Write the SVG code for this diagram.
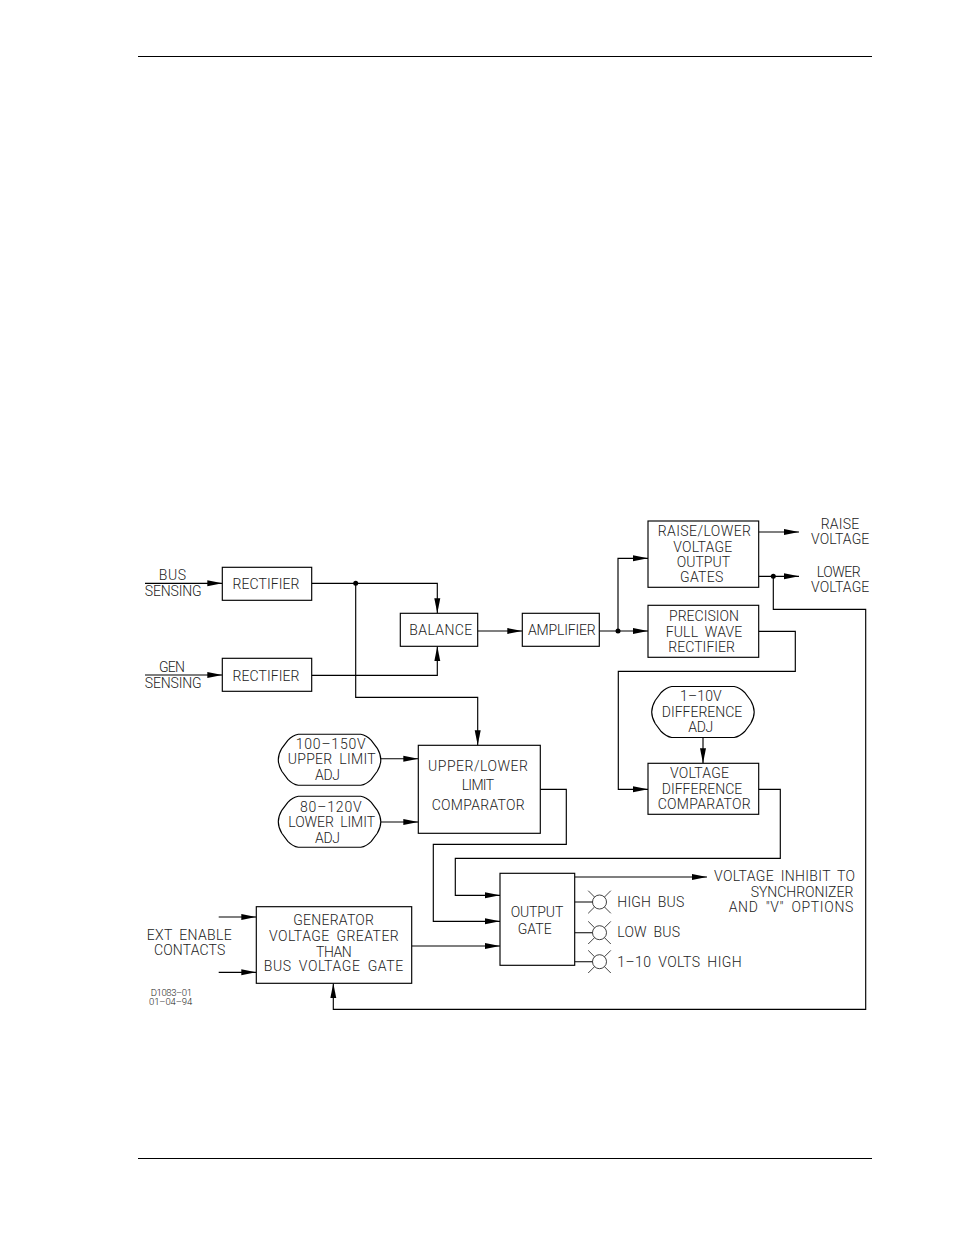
<svg xmlns="http://www.w3.org/2000/svg" xmlns:xlink="http://www.w3.org/1999/xlink" width="954" height="1235" viewBox="0 0 954 1235">
<style>
.b{fill:#fff;stroke:#000;stroke-width:1.15}
.c{fill:none;stroke:#000;stroke-width:1.15;marker-end:url(#a)}
.p{fill:none;stroke:#000;stroke-width:1.15}
.g{fill:none;stroke:#000;stroke-width:1}
.r{fill:none;stroke:#111;stroke-width:.8}
.d{fill:#000;stroke:none}
text{font-family:Roboto,"Liberation Sans",Arial,sans-serif;font-weight:300;font-size:14px;fill:#222;word-spacing:3px}
text.s{font-size:9.500px;word-spacing:0}
</style>
<defs>
<marker id="a" markerUnits="userSpaceOnUse" markerWidth="16" markerHeight="8" refX="15" refY="3.500" orient="auto"><path d="M0,.5 L15,3.500 L0,6.500Z" fill="#000"/></marker>
<path id="o" d="M20,0H82.500Q88,1 93,6L99,14Q102.500,20 102.500,25.500Q102.500,31 99,37L93,45Q88,50 82.500,51H20Q14.500,50 9.500,45L3.500,37Q0,31 0,25.500Q0,20 3.500,14L9.500,6Q14.500,1 20,0Z"/>
<g id="l"><path class="r" d="M-7,0a7,7 0 1,0 14,0a7,7 0 1,0 -14,0M-11.300-11.300L-5,-5M11.300-11.300L5,-5M-11.300,11.300L-5,5M11.300,11.300L5,5"/></g>
</defs>
<rect width="954" height="1235" fill="#fff"/>
<g id="page-rules"><path class="g" d="M138,56.500H872M138,1158.500H872"/></g>
<g id="connectors">
<path class="c" d="M145,583.300H222.300"/>
<path class="c" d="M145,675H222.300"/>
<path class="c" d="M311.700,583.300H437.300V613.300"/>
<path class="c" d="M311.700,675.300H437.300V646.300"/>
<path class="c" d="M355.700,583.300V697.300H477.700V745.300"/>
<path class="c" d="M477.700,631H522.300"/>
<path class="c" d="M599.300,631H648"/>
<path class="c" d="M618,631V558.300H648"/>
<path class="c" d="M758.700,532H799"/>
<path class="c" d="M758.700,576.300H799"/>
<path class="c" d="M773.300,576.300V609.300H865.700V1009.300H333.300V983.300"/>
<path class="c" d="M758.700,631.300H795.300V671.300H618.300V789.300H648"/>
<path class="c" d="M703,737.300V763.300"/>
<path class="c" d="M758.700,789.300H780.300V858.300H455.300V895.300H500"/>
<path class="c" d="M540.300,789.300H566.300V844.300H433.300V921.300H500"/>
<path class="c" d="M411.700,946H500"/>
<path class="c" d="M218.700,917H256.300"/>
<path class="c" d="M218.700,972.300H256.300"/>
<path class="c" d="M381,758.700H418.300"/>
<path class="c" d="M381,822H418.300"/>
<path class="c" d="M574.700,877H707"/>
<path class="p" d="M574.700,902H592.500M574.700,932.700H592.500M574.700,961.700H592.500"/>
<circle class="d" cx="355.700" cy="583.300" r="2.500"/>
<circle class="d" cx="618" cy="631" r="2.500"/>
<circle class="d" cx="773.300" cy="576.300" r="2.500"/>
</g>
<g id="labels">
<text x="158.700" y="580" textLength="27.300">BUS</text>
<text x="144.700" y="596" textLength="57">SENSING</text>
<text x="159" y="672.300" textLength="26">GEN</text>
<text x="144.700" y="687.700" textLength="57">SENSING</text>
<text x="820.700" y="529" textLength="38.600">RAISE</text>
<text x="811" y="544.300" textLength="58.300">VOLTAGE</text>
<text x="816.700" y="576.700" textLength="44">LOWER</text>
<text x="811" y="592.300" textLength="58.300">VOLTAGE</text>
<text x="146.700" y="940" textLength="85">EXT ENABLE</text>
<text x="154" y="955.300" textLength="71.300">CONTACTS</text>
<text class="s" x="150.700" y="996" textLength="41.300">D1083–01</text>
<text class="s" x="149" y="1005.300" textLength="43.300">01–04–94</text>
<text x="714" y="880.700" textLength="141">VOLTAGE INHIBIT TO</text>
<text x="750.700" y="896.700" textLength="102.600">SYNCHRONIZER</text>
<text x="728.700" y="912.300" textLength="124.600">AND "V" OPTIONS</text>
</g>
<g id="rectifier-bus"><rect class="b" x="222.300" y="567.300" width="89.400" height="33"/><text x="232.500" y="589.300" textLength="67">RECTIFIER</text></g>
<g id="rectifier-gen"><rect class="b" x="222.300" y="658.300" width="89.400" height="33"/><text x="232.500" y="681" textLength="67">RECTIFIER</text></g>
<g id="balance"><rect class="b" x="400.300" y="613.300" width="77.400" height="33"/><text x="409.300" y="635.300" textLength="63">BALANCE</text></g>
<g id="amplifier"><rect class="b" x="522.300" y="613.300" width="77" height="33"/><text x="528" y="635.300" textLength="67.700">AMPLIFIER</text></g>
<g id="raise-lower"><rect class="b" x="648" y="521" width="110.700" height="66.300"/>
<text x="657.700" y="536" textLength="93.300">RAISE/LOWER</text>
<text x="673.300" y="551.700" textLength="59">VOLTAGE</text>
<text x="676.700" y="567.300" textLength="53.300">OUTPUT</text>
<text x="680" y="582" textLength="43.300">GATES</text></g>
<g id="precision"><rect class="b" x="648" y="605.300" width="110.700" height="52"/>
<text x="669" y="621" textLength="70">PRECISION</text>
<text x="665.700" y="636.700" textLength="76.600">FULL WAVE</text>
<text x="668.300" y="652.300" textLength="66.700">RECTIFIER</text></g>
<g id="difference-adj"><use href="#o" xlink:href="#o" class="b" x="651.700" y="686.500"/>
<text x="680" y="701.300" textLength="41.700">1–10V</text>
<text x="661.700" y="717" textLength="80.600">DIFFERENCE</text>
<text x="688.300" y="732.300" textLength="25">ADJ</text></g>
<g id="voltage-difference"><rect class="b" x="648" y="763.300" width="110.700" height="51"/>
<text x="670" y="778.300" textLength="59">VOLTAGE</text>
<text x="661.700" y="794" textLength="80.600">DIFFERENCE</text>
<text x="657.700" y="809.300" textLength="93">COMPARATOR</text></g>
<g id="upper-adj"><use href="#o" xlink:href="#o" class="b" x="278.300" y="734.300"/>
<text x="295.700" y="749" textLength="70">100–150V</text>
<text x="287.700" y="764.300" textLength="88">UPPER LIMIT</text>
<text x="315" y="780" textLength="25">ADJ</text></g>
<g id="lower-adj"><use href="#o" xlink:href="#o" class="b" x="278.300" y="796.300"/>
<text x="300" y="811.700" textLength="61.700">80–120V</text>
<text x="288.300" y="827.300" textLength="86.700">LOWER LIMIT</text>
<text x="315" y="842.700" textLength="25">ADJ</text></g>
<g id="limit-comparator"><rect class="b" x="418.300" y="745.300" width="122" height="88"/>
<text x="428" y="771" textLength="100">UPPER/LOWER</text>
<text x="461.700" y="790" textLength="32.300">LIMIT</text>
<text x="431.700" y="810" textLength="93">COMPARATOR</text></g>
<g id="generator-gate"><rect class="b" x="256.300" y="906.700" width="155.400" height="76.600"/>
<text x="293.300" y="925" textLength="80.700">GENERATOR</text>
<text x="269" y="941" textLength="129.700">VOLTAGE GREATER</text>
<text x="316" y="956.700" textLength="35.700">THAN</text>
<text x="263.700" y="971.300" textLength="139.600">BUS VOLTAGE GATE</text></g>
<g id="output-gate"><rect class="b" x="500" y="873.300" width="74.700" height="92"/>
<text x="510.700" y="917.300" textLength="52.600">OUTPUT</text>
<text x="517.700" y="933.700" textLength="34">GATE</text></g>
<g id="lamp-high"><use href="#l" xlink:href="#l" x="599.500" y="902"/><text x="617.300" y="906.700" textLength="67">HIGH BUS</text></g>
<g id="lamp-low"><use href="#l" xlink:href="#l" x="599.500" y="932.700"/><text x="617.300" y="937" textLength="62.700">LOW BUS</text></g>
<g id="lamp-volts"><use href="#l" xlink:href="#l" x="599.500" y="961.700"/><text x="617.300" y="967.300" textLength="124.400">1–10 VOLTS HIGH</text></g>
</svg>
